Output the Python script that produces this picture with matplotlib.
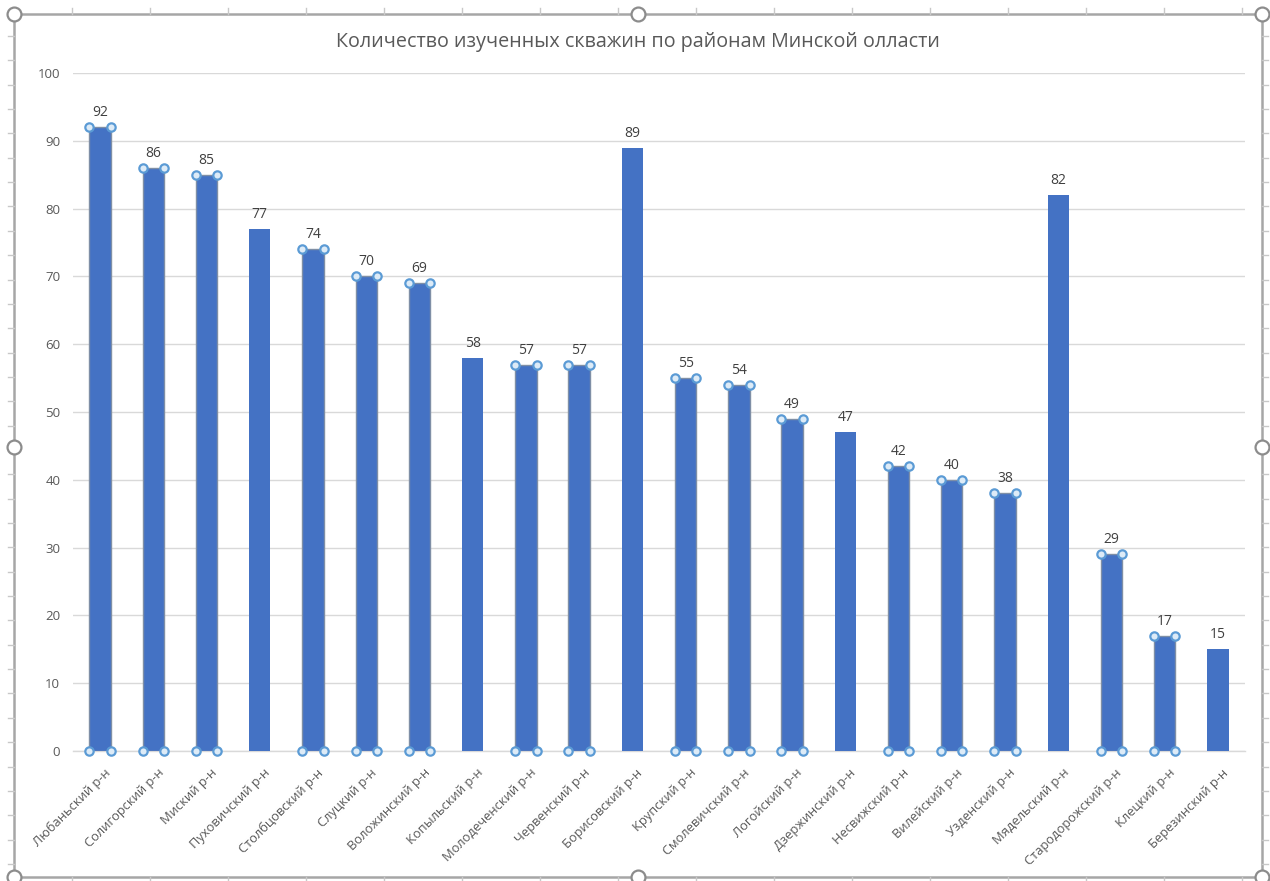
import matplotlib
matplotlib.use("Agg")
import matplotlib.pyplot as plt
from matplotlib.lines import Line2D
from matplotlib.transforms import ScaledTranslation

plt.rcParams['font.family'] = ['Open Sans', 'DejaVu Sans']

title = "Количество изученных скважин по районам Минской олласти"
districts = ["Любаньский р-н", "Солигорский р-н", "Миский р-н", "Пуховичский р-н",
             "Столбцовский р-н", "Слуцкий р-н", "Воложинский р-н", "Копыльский р-н",
             "Молодеченский р-н", "Червенский р-н", "Борисовский р-н", "Крупский р-н",
             "Смолевичский р-н", "Логойский р-н", "Дзержинский р-н", "Несвижский р-н",
             "Вилейский р-н", "Узденский р-н", "Мядельский р-н", "Стародорожский р-н",
             "Клецкий р-н", "Березинский р-н"]
wells = [92, 86, 85, 77, 74, 70, 69, 58, 57, 57, 89, 55, 54, 49, 47, 42, 40, 38, 82, 29, 17, 15]
selected = [True, True, True, False, True, True, True, False, True, True, False, True,
            True, True, False, True, True, True, False, True, True, False]
y_ticks = [0, 10, 20, 30, 40, 50, 60, 70, 80, 90, 100]

W, H = 1270, 881
fig = plt.figure(figsize=(W / 100, H / 100), dpi=100)
fig.patch.set_facecolor('white')

TXT = '#595959'
BAR = '#4472C4'
GRID = '#D9D9D9'

ax = fig.add_axes([73.4 / W, 130 / H, (1244.6 - 73.4) / W, (751 - 73) / H])
ax.set_facecolor('white')
x = list(range(len(districts)))
bw = 0.40
bars = ax.bar(x, wells, width=bw, color=BAR, zorder=3)
for b, s in zip(bars, selected):
    if s:
        b.set_edgecolor('#7F8FA6')
        b.set_linewidth(1.0)

# selection handles on the chosen bars
hx, hy = [], []
for xi, v, s in zip(x, wells, selected):
    if s:
        for dx in (-bw / 2, bw / 2):
            for yy in (v, 0):
                hx.append(xi + dx)
                hy.append(yy)
ax.plot(hx, hy, 'o', ms=6, mfc='#DDEBF7', mec='#5B9BD5', mew=1.6, zorder=5,
        clip_on=False, linestyle='none')

for xi, v in zip(x, wells):
    ax.annotate(str(v), (xi, v), xytext=(0, 5), textcoords='offset points',
                ha='center', va='bottom', fontsize=10, color='#404040', zorder=6)

ax.set_xlim(-0.5, len(districts) - 0.5)
ax.set_ylim(0, 100)
ax.set_yticks(y_ticks)
ax.set_yticklabels([str(t) for t in y_ticks], fontsize=9.5, color=TXT)
ax.grid(axis='y', color=GRID, linewidth=1.0, zorder=0)
ax.set_axisbelow(True)
for sp in ['top', 'right', 'left']:
    ax.spines[sp].set_visible(False)
ax.spines['bottom'].set_color(GRID)
ax.spines['bottom'].set_linewidth(1.0)
ax.tick_params(axis='y', length=0, pad=9.5)
ax.tick_params(axis='x', length=0, pad=11)
ax.set_xticks(x)
ax.set_xticklabels(districts, rotation=45, ha='right', va='top',
                   rotation_mode='anchor', fontsize=9.3, color=TXT)
off = ScaledTranslation(4 / 100, 0, fig.dpi_scale_trans)
for lab in ax.get_xticklabels():
    lab.set_transform(lab.get_transform() + off)

fig.text(638 / W, 1 - 42 / H, title, ha='center', va='center', fontsize=14.2, color=TXT)

# chart frame (selected chart object), ruler ticks and handles
FR = '#A6A6A6'
def fx(px):
    return px / W
def fy(py):
    return 1 - py / H

L, R, T, B = 14, 1262, 14, 877
fig.add_artist(Line2D([fx(L), fx(R), fx(R), fx(L), fx(L)],
                      [fy(T), fy(T), fy(B), fy(B), fy(T)],
                      color=FR, lw=1.8, transform=fig.transFigure))
tick_c = '#C8C8C8'
k = 0
while 72 + 78 * k <= 1250:
    px = 72 + 78 * k
    fig.add_artist(Line2D([fx(px), fx(px)], [fy(T), fy(T - 6)], color=tick_c, lw=1,
                          transform=fig.transFigure))
    fig.add_artist(Line2D([fx(px), fx(px)], [fy(B), fy(B + 6)], color=tick_c, lw=1,
                          transform=fig.transFigure))
    k += 1
k = 0
while 36 + 24.35 * k <= 870:
    py = 36 + 24.35 * k
    fig.add_artist(Line2D([fx(L - 6), fx(L)], [fy(py), fy(py)], color=tick_c, lw=1,
                          transform=fig.transFigure))
    fig.add_artist(Line2D([fx(R), fx(R + 6)], [fy(py), fy(py)], color=tick_c, lw=1,
                          transform=fig.transFigure))
    k += 1

for (px, py) in [(L, T), (638, T), (R, T), (L, 447), (R, 447), (L, B), (638, B), (R, B)]:
    fig.add_artist(Line2D([fx(px)], [fy(py)], marker='o', ms=10, mfc='white', mec='#8C8C8C',
                          mew=1.6, transform=fig.transFigure, zorder=10))

fig.savefig('out.png', dpi=100, facecolor='white')
